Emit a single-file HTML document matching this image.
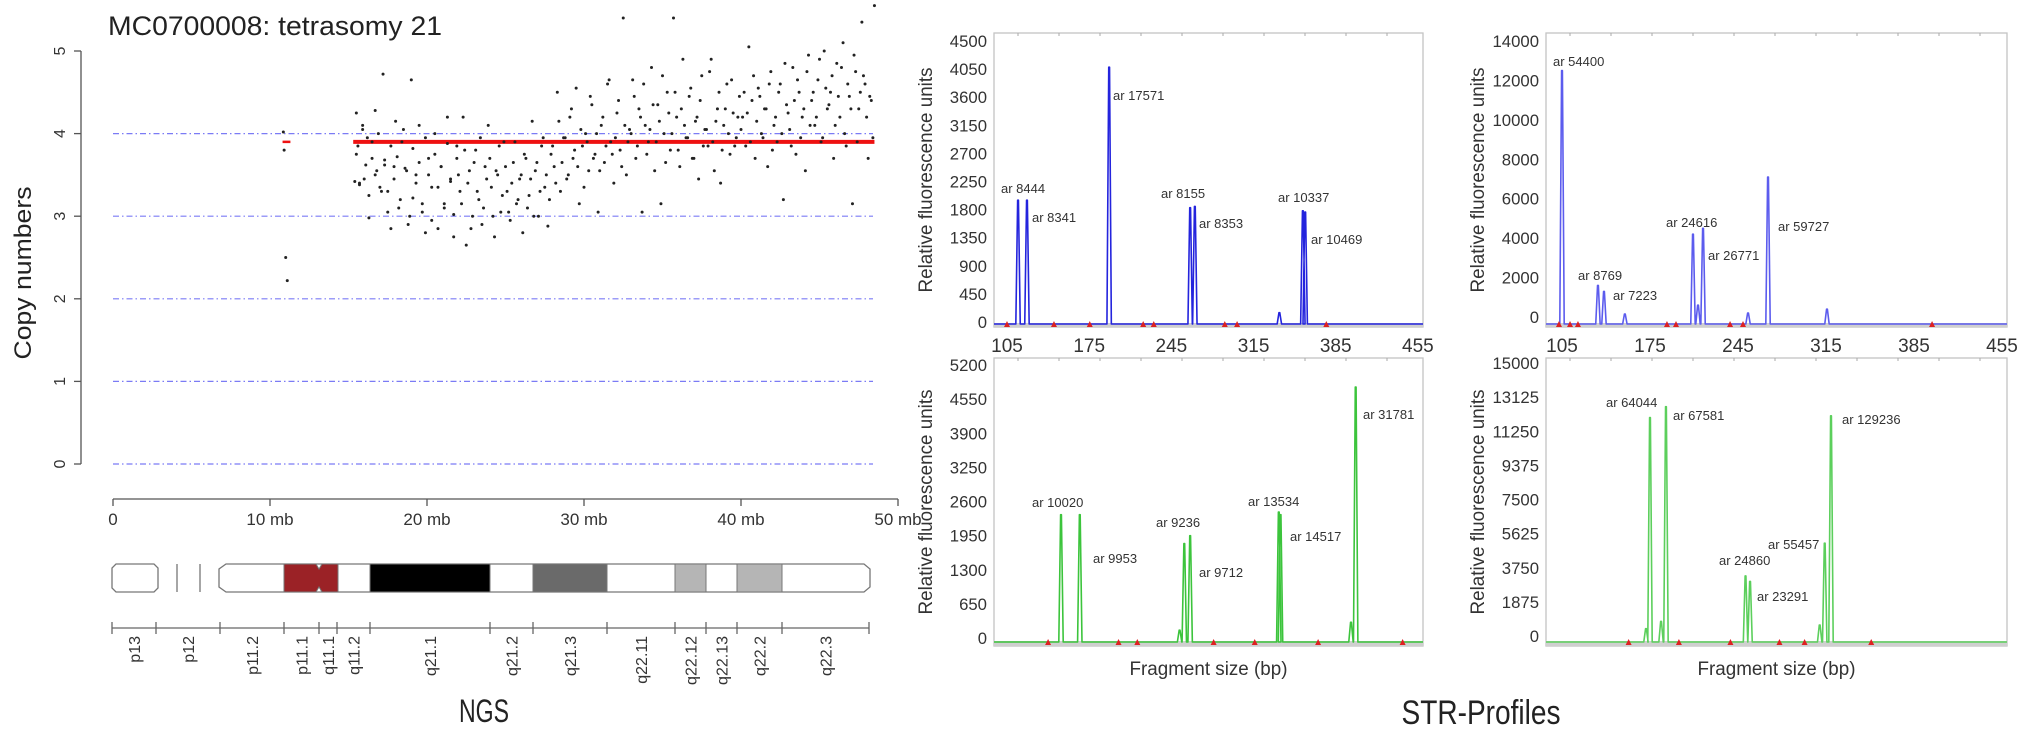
<!DOCTYPE html>
<html><head><meta charset="utf-8"><style>
html,body{margin:0;padding:0;background:#fff;}
svg{display:block;font-family:"Liberation Sans",Arial,sans-serif;}
</style></head><body>
<svg id="fig" width="2031" height="733" viewBox="0 0 2031 733" xmlns="http://www.w3.org/2000/svg"></svg>
<script>
// ---------- NGS data ----------
const mbTicks = [0,10,20,30,40,50];
const mbTickLabels = ["0","10 mb","20 mb","30 mb","40 mb","50 mb"];
const cnTicks = [0,1,2,3,4,5];
const gridLevels = [0,1,2,3,4];
const positions = [10.85,10.9,11.0,11.1,
15.4,15.5,15.6,15.7,15.9,16.0,16.2,16.3,16.5,16.7,16.8,17.0,17.2,17.3,17.5,17.7,17.9,18.0,18.2,18.4,18.6,18.8,19.0,19.1,19.3,19.5,19.7,19.9,20.1,20.3,20.5,20.7,20.9,21.1,21.3,21.5,21.7,21.9,
22.1,22.3,22.5,22.7,22.9,23.1,23.3,23.5,23.7,23.9,24.1,24.3,24.5,24.7,24.9,25.1,25.3,25.5,25.7,25.9,26.1,26.3,26.5,26.7,26.9,27.1,27.3,27.5,27.7,27.9,
28.1,28.3,28.5,28.7,28.9,29.1,29.3,29.5,29.7,29.9,30.1,30.3,30.5,30.7,30.9,31.1,31.3,31.5,31.7,31.9,32.1,32.3,32.5,32.7,32.9,
33.1,33.3,33.5,33.7,33.9,34.1,34.3,34.5,34.7,34.9,35.1,35.3,35.5,35.7,35.9,36.1,36.3,36.5,36.7,36.9,37.1,37.3,37.5,37.7,37.9,38.1,38.3,38.5,38.7,38.9,39.1,39.3,39.5,39.7,39.9,
40.1,40.3,40.5,40.7,40.9,41.1,41.3,41.5,41.7,41.9,42.1,42.3,42.5,42.7,42.9,43.1,43.3,43.5,43.7,43.9,44.1,44.3,44.5,44.7,44.9,45.1,45.3,45.5,45.7,45.9,46.1,46.3,46.5,46.7,46.9,47.1,47.3,47.5,47.7,47.9,48.1,48.3,48.5];
const copyNumbers = [4.02,3.8,2.5,2.22,
3.42,4.25,3.85,3.4,4.05,3.45,3.95,2.98,3.7,4.28,3.55,3.35,4.72,3.62,3.3,2.85,3.6,4.15,3.1,3.9,3.58,2.9,4.65,3.22,3.5,4.1,3.05,2.8,3.7,3.35,4.0,2.85,3.6,3.15,4.2,3.45,2.75,3.85,
3.3,4.2,2.65,3.55,3.0,3.8,3.2,2.9,3.6,4.1,3.35,2.75,3.5,3.05,3.9,3.3,2.95,3.65,3.15,3.45,2.8,3.7,3.25,4.15,3.55,3.0,3.85,3.35,2.88,3.75,
3.6,4.5,3.3,3.95,3.45,4.2,3.7,4.55,3.15,3.85,4.0,3.55,4.35,3.75,3.05,4.1,3.65,4.6,3.9,3.4,4.25,3.8,5.4,3.5,4.05,
4.65,3.7,4.3,3.05,4.1,3.9,4.8,3.55,4.35,3.15,4.0,4.5,3.8,5.4,4.2,3.6,4.9,3.95,4.45,3.7,4.15,3.45,4.7,4.05,3.85,4.9,3.55,4.3,3.4,4.1,4.6,3.75,4.25,3.95,4.45,
4.2,3.85,5.05,4.4,3.7,4.55,4.0,4.3,3.6,4.75,4.1,3.9,4.6,3.2,4.35,4.05,4.8,3.75,4.5,4.2,3.55,4.95,4.4,4.1,4.65,3.9,5.0,4.3,4.5,3.7,4.85,4.2,5.1,3.85,4.45,3.15,4.75,4.3,5.35,4.6,3.7,4.4,5.55];
const positions2 = [15.5,15.7,15.9,16.1,16.3,16.5,16.7,16.9,17.1,17.3,17.5,17.7,17.9,18.1,18.3,18.5,18.7,18.9,19.1,19.3,19.5,19.7,19.9,20.1,20.3,20.5,20.7,20.9,21.1,21.3,21.5,21.7,21.9,
22.0,22.2,22.4,22.6,22.8,23.0,23.2,23.4,23.6,23.8,24.0,24.2,24.4,24.6,24.8,25.0,25.2,25.4,25.6,25.8,26.0,26.2,26.4,26.6,26.8,27.0,27.2,27.4,27.6,27.8,
28.0,28.2,28.4,28.6,28.8,29.0,29.2,29.4,29.6,29.8,30.0,30.2,30.4,30.6,30.8,31.0,31.2,31.4,31.6,31.8,32.0,32.2,32.4,32.6,32.8,
33.0,33.2,33.4,33.6,33.8,34.0,34.2,34.4,34.6,34.8,35.0,35.2,35.4,35.6,35.8,36.0,36.2,36.4,36.6,36.8,37.0,37.2,37.4,37.6,37.8,38.0,38.2,38.4,38.6,38.8,39.0,39.2,39.4,39.6,39.8,
40.0,40.2,40.4,40.6,40.8,41.0,41.2,41.4,41.6,41.8,42.0,42.2,42.4,42.6,42.8,43.0,43.2,43.4,43.6,43.8,44.0,44.2,44.4,44.6,44.8,45.0,45.2,45.4,45.6,45.8,46.0,46.2,46.4,46.6,46.8,47.0,47.2,47.4,47.6,47.8,48.0,48.2,48.4];
const copyNumbers2 = [3.75,3.38,4.1,3.62,3.25,3.9,3.5,4.0,3.3,3.68,3.05,3.85,3.45,3.72,3.2,4.05,3.55,3.0,3.82,3.4,3.65,3.15,3.95,3.5,2.95,3.75,3.35,3.6,3.1,3.88,3.42,3.02,3.7,
3.5,3.15,3.8,3.4,2.85,3.65,3.3,3.95,3.1,3.45,3.7,3.0,3.55,3.85,3.25,3.6,3.05,3.4,3.9,3.2,3.5,3.75,3.1,3.45,3.0,3.65,3.3,3.95,3.5,3.2,
3.85,3.4,4.15,3.65,3.95,3.5,4.3,3.8,3.6,4.05,3.35,3.9,4.45,3.7,4.0,3.55,4.2,3.85,4.65,3.75,3.95,4.4,3.6,4.1,3.9,
4.0,4.45,3.85,4.2,4.6,3.75,4.05,4.35,3.9,4.15,4.7,3.65,4.25,4.0,4.5,3.8,4.3,4.1,3.95,4.55,3.7,4.2,4.4,3.85,4.05,4.75,3.9,4.15,4.5,3.8,4.3,4.0,4.65,3.85,4.2,
4.05,4.5,4.25,3.9,4.7,4.15,4.45,3.95,4.3,4.6,3.8,4.2,4.5,4.0,4.85,4.25,3.85,4.4,4.65,3.95,4.3,4.75,4.1,4.5,4.2,4.9,3.95,4.55,4.35,4.7,4.1,4.45,4.8,4.0,4.6,4.3,4.95,3.9,4.5,4.7,4.2,4.45,3.95];
const segStarts = [10.8,15.3];
const segEnds = [11.3,48.5];
const segValues = [3.9,3.9];
const bandLabels = ["p13","p12","p11.2","p11.1","q11.1","q11.2","q21.1","q21.2","q21.3","q22.11","q22.12","q22.13","q22.2","q22.3"];

// ---------- STR data ----------
const tlBp = [114.4,122,192,261,265,357,359,337];
const tlHeights = [1950,1950,4080,1830,1850,1780,1760,150];
const tlLabels = ["ar 8444","ar 8341","ar 17571","ar 8155","ar 8353","ar 10337","ar 10469"];
const tlMarkers = [105,145,175.5,221,230,290.5,301,377];
const tlTicks = [0,450,900,1350,1800,2250,2700,3150,3600,4050,4500];

const trBp = [105,133.6,138.4,209.2,217.2,268.9,213.2,155,253,315.8];
const trHeights = [12500,1600,1300,4200,4500,7100,600,150,200,400];
const trLabels = ["ar 54400","ar 8769","ar 7223","ar 24616","ar 26771","ar 59727"];
const trMarkers = [102.6,111.4,117.7,188.5,195.7,238.7,249,399.4];
const trTicks = [0,2000,4000,6000,8000,10000,12000,14000];

const blBp = [151,167,256,261,336.5,338,402,398,252];
const blHeights = [2350,2350,1800,1950,2400,2350,4780,300,150];
const blLabels = ["ar 10020","ar 9953","ar 9236","ar 9712","ar 13534","ar 14517","ar 31781"];
const blMarkers = [140,200,216,281,316,370,442];
const blTicks = [0,650,1300,1950,2600,3250,3900,4550,5200];

const brBp = [175,187.7,251,254.6,314,319,171.8,183.8,310];
const brHeights = [12000,12600,3300,3000,5100,12100,400,800,600];
const brLabels = ["ar 64044","ar 67581","ar 24860","ar 23291","ar 55457","ar 129236"];
const brMarkers = [158,198,239,278,298,351];
const brTicks = [0,1875,3750,5625,7500,9375,11250,13125,15000];

const bpTicks = [105,175,245,315,385,455];

const NS = "http://www.w3.org/2000/svg";
const svg = document.getElementById("fig");
function mk(tag, attrs, parent, text){
  const el = document.createElementNS(NS, tag);
  for (const k in attrs) el.setAttribute(k, attrs[k]);
  if (text !== undefined) el.textContent = text;
  (parent||svg).appendChild(el);
  return el;
}

// ===== NGS panel =====
const xS = mb => 113 + mb*15.7;
const yS = v => 464 - v*82.6;
const ngs = mk("g", {});



let t = mk("text",{x:108,y:35,"font-size":27,fill:"#222",textLength:334,lengthAdjust:"spacingAndGlyphs"},ngs,"MC0700008: tetrasomy 21");



t = mk("text",{x:0,y:0,"font-size":24,fill:"#222","text-anchor":"middle",textLength:173,lengthAdjust:"spacingAndGlyphs",transform:"translate(31,273) rotate(-90)"},ngs,"Copy numbers");



let ax = mk("line",{x1:81,y1:yS(5),x2:81,y2:yS(0),stroke:"#555","stroke-width":1.3},ngs);


cnTicks.forEach(v=>{
  const l = mk("line",{x1:74,y1:yS(v),x2:81,y2:yS(v),stroke:"#555","stroke-width":1.3},ngs);
  
  
  const tx = mk("text",{x:0,y:0,"font-size":16,fill:"#333","text-anchor":"middle",transform:`translate(65,${yS(v)}) rotate(-90)`},ngs,String(v));
  
  
});
gridLevels.forEach(v=>{
  const g = mk("line",{x1:113,y1:yS(v),x2:873,y2:yS(v),stroke:"#7b7bf5","stroke-width":1.2,"stroke-dasharray":"6 3 1.5 3"},ngs);
  
  
});
for (let i=0;i<segStarts.length;i++){
  const s = mk("line",{x1:xS(segStarts[i]),y1:yS(segValues[i]),x2:xS(segEnds[i]),y2:yS(segValues[i]),stroke:"#ee1111","stroke-width":i===0?2.5:4},ngs);
  
  
}
const n = Math.min(positions.length, copyNumbers.length);
for (let i=0;i<n;i++){
  const c = mk("circle",{cx:xS(positions[i]),cy:yS(copyNumbers[i]),r:1.5,fill:"#222"},ngs);
  
  
}
const n2 = Math.min(positions2.length, copyNumbers2.length);
for (let i=0;i<n2;i++){
  const c = mk("circle",{cx:xS(positions2[i]),cy:yS(copyNumbers2[i]),r:1.5,fill:"#222"},ngs);
  
  
}
ax = mk("line",{x1:xS(0),y1:499,x2:xS(50),y2:499,stroke:"#555","stroke-width":1.3},ngs);


mbTicks.forEach((v,i)=>{
  const l = mk("line",{x1:xS(v),y1:499,x2:xS(v),y2:506,stroke:"#555","stroke-width":1.3},ngs);
  
  
  const tx = mk("text",{x:xS(v),y:525,"font-size":17,fill:"#333","text-anchor":"middle"},ngs,mbTickLabels[i]);
  
  
});

// ideogram
const ideo = mk("g",{},ngs);


const yt=564, yb=592;
let p = mk("path",{d:`M116,${yt} L154,${yt} L158,${yt+4} L158,${yb-4} L154,${yb} L116,${yb} L112,${yb-4} L112,${yt+4} Z`,fill:"#fff",stroke:"#777","stroke-width":1.3},ideo);


[177,200].forEach(x=>{
  const l = mk("line",{x1:x,y1:yt,x2:x,y2:yb,stroke:"#777","stroke-width":1.3},ideo);
  
  
});
p = mk("path",{d:`M226,${yt} L864,${yt} L870,${yt+5} L870,${yb-5} L864,${yb} L226,${yb} L219,${yb-5} L219,${yt+5} Z`,fill:"#fff",stroke:"#777","stroke-width":1.3},ideo);


p = mk("path",{d:`M284,${yt} L316,${yt} L319,${yt+5} L322,${yt} L338,${yt} L338,${yb} L322,${yb} L319,${yb-5} L316,${yb} L284,${yb} Z`,fill:"#9b2226",stroke:"#777","stroke-width":1},ideo);


[[370,490,"#000"],[533,607,"#6a6a6a"],[675,706,"#b5b5b5"],[737,782,"#b5b5b5"]].forEach(b=>{
  const r = mk("rect",{x:b[0],y:yt,width:b[1]-b[0],height:yb-yt,fill:b[2],stroke:"#777","stroke-width":1},ideo);
  
  
});
const bTicks=[112,156,220,284,319,337,370,490,533,607,675,706,737,782,869];
const lax = mk("line",{x1:112,y1:628,x2:869,y2:628,stroke:"#666","stroke-width":1.3},ideo);


bTicks.forEach(x=>{
  const l = mk("line",{x1:x,y1:622,x2:x,y2:634,stroke:"#666","stroke-width":1.3},ideo);
  
  
});
bandLabels.forEach((s,i)=>{
  const cx=(bTicks[i]+bTicks[i+1])/2;
  const tx = mk("text",{x:0,y:0,"font-size":16,fill:"#333","text-anchor":"end",transform:`translate(${cx+6},636) rotate(-90)`},ideo,s);
  
  
});
t = mk("text",{x:484,y:722,"font-size":32,fill:"#222","text-anchor":"middle",textLength:50,lengthAdjust:"spacingAndGlyphs"},svg,"NGS");



// ===== STR panels =====
function panel(cfg){
  const g = mk("g",{});
  
  
  const fx = bp => cfg.xA + (bp-105)*cfg.xK;
  const fy = v => cfg.y0 - v*cfg.yK;
  const box = mk("rect",{x:cfg.bx0,y:cfg.by0,width:cfg.bx1-cfg.bx0,height:cfg.by1-cfg.by0,fill:"#fff",stroke:"#c4c4c4","stroke-width":1.3},g);
  
  
  for (let x=cfg.bx0+24;x<cfg.bx1;x+=41){
    const m = mk("line",{x1:x,y1:cfg.by0,x2:x,y2:cfg.by0+3,stroke:"#aaa"},g);
    
    
  }
  const base = mk("rect",{x:cfg.bx0,y:cfg.base-1,width:cfg.bx1-cfg.bx0,height:cfg.by1-cfg.base+1,fill:"#cfcfcf"},g);
  
  
  cfg.ticks.forEach(v=>{
    const tx = mk("text",{x:cfg.bx0-7,y:fy(v)+6,"font-size":17,fill:"#333","text-anchor":"end",textLength:String(v).length*9.3,lengthAdjust:"spacingAndGlyphs"},g,String(v));
    
    
  });
  if (cfg.xLabels){
    bpTicks.forEach(v=>{
      const tx = mk("text",{x:fx(v),y:cfg.by1+25,"font-size":19,fill:"#333","text-anchor":"middle"},g,String(v));
      
      
    });
  } else {
    const tx = mk("text",{x:(cfg.bx0+cfg.bx1)/2,y:675,"font-size":19,fill:"#333","text-anchor":"middle",textLength:158,lengthAdjust:"spacingAndGlyphs"},g,"Fragment size (bp)");
    
    
  }
  const yt2 = mk("text",{x:0,y:0,"font-size":19,fill:"#333","text-anchor":"middle",textLength:225,lengthAdjust:"spacingAndGlyphs",transform:`translate(${cfg.bx0-62},${(cfg.by0+cfg.by1)/2}) rotate(-90)`},g,"Relative fluorescence units");
  
  
  let d = `M${cfg.bx0},${cfg.base}`;
  const order = cfg.bp.map((b,i)=>i).sort((a,b)=>cfg.bp[a]-cfg.bp[b]);
  order.forEach(i=>{
    const x=fx(cfg.bp[i]), y=Math.min(fy(cfg.h[i]), cfg.base);
    d += ` L${x-2.2},${cfg.base} L${x-0.4},${y} L${x+0.4},${y} L${x+2.2},${cfg.base}`;
  });
  d += ` L${cfg.bx1},${cfg.base}`;
  const tr = mk("path",{d:d,fill:"none",stroke:cfg.color,"stroke-width":1.6,"stroke-linejoin":"round"},g);
  
  
  cfg.markers.forEach(bp=>{
    const x=fx(bp), y=cfg.base+1;
    const m = mk("path",{d:`M${x-3},${y+2} L${x},${y-4} L${x+3},${y+2} Z`,fill:"#d22"},g);
    
    
  });
  cfg.labels.forEach((s,i)=>{
    const tx = mk("text",{x:cfg.lp[i][0],y:cfg.lp[i][1],"font-size":13,fill:"#333"},g,s);
    
    
  });
}
panel({name:"str-blue-1",bx0:994,bx1:1423,by0:33,by1:327,base:324,xA:1007,xK:1.174,y0:322,yK:281/4500,ticks:tlTicks,bp:tlBp,h:tlHeights,markers:tlMarkers,labels:tlLabels,color:"#2424dd",xLabels:true,
  lp:[[1001,193],[1032,222],[1113,100],[1161,198],[1199,228],[1278,202],[1311,244]]});
panel({name:"str-blue-2",bx0:1546,bx1:2007,by0:33,by1:327,base:324,xA:1562,xK:1.257,y0:317,yK:276/14000,ticks:trTicks,bp:trBp,h:trHeights,markers:trMarkers,labels:trLabels,color:"#5c5cee",xLabels:true,
  lp:[[1553,66],[1578,280],[1613,300],[1666,227],[1708,260],[1778,231]]});
panel({name:"str-green-1",bx0:994,bx1:1423,by0:358,by1:646,base:642,xA:1007,xK:1.174,y0:638,yK:273/5200,ticks:blTicks,bp:blBp,h:blHeights,markers:blMarkers,labels:blLabels,color:"#3cc43c",xLabels:false,
  lp:[[1032,507],[1093,563],[1156,527],[1199,577],[1248,506],[1290,541],[1363,419]]});
panel({name:"str-green-2",bx0:1546,bx1:2007,by0:358,by1:646,base:642,xA:1562,xK:1.257,y0:636,yK:273/15000,ticks:brTicks,bp:brBp,h:brHeights,markers:brMarkers,labels:brLabels,color:"#5ccf5c",xLabels:false,
  lp:[[1606,407],[1673,420],[1719,565],[1757,601],[1768,549],[1842,424]]});

t = mk("text",{x:1481,y:724,"font-size":34,fill:"#222","text-anchor":"middle",textLength:159,lengthAdjust:"spacingAndGlyphs"},svg,"STR-Profiles");


</script>
</body></html>
